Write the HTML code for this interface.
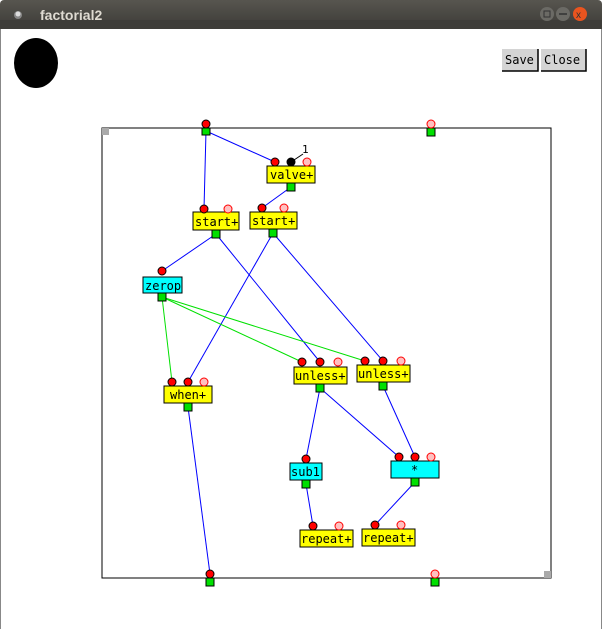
<!DOCTYPE html>
<html><head><style>
body{margin:0;width:602px;height:629px;overflow:hidden;background:#fff;font-family:"DejaVu Sans Mono","Liberation Mono",monospace;}
</style></head><body>
<svg width="602" height="629" xmlns="http://www.w3.org/2000/svg" font-family="DejaVu Sans Mono, Liberation Mono, monospace">
<defs><linearGradient id="tb" x1="0" y1="0" x2="0" y2="1"><stop offset="0" stop-color="#57554f"/><stop offset="1" stop-color="#3c3b37"/></linearGradient></defs>
<rect x="0" y="0" width="602" height="29" fill="url(#tb)" rx="4"/>
<rect x="0" y="20" width="602" height="9" fill="#3e3d39"/>
<circle cx="18" cy="15" r="4" fill="#888"/><circle cx="18" cy="14" r="2.5" fill="#ddd"/>
<text x="40" y="20" font-family="Liberation Sans, sans-serif" font-weight="bold" font-size="14" fill="#dfdbd2">factorial2</text>
<circle cx="547" cy="14" r="7" fill="#6b6a65"/><rect x="544" y="11" width="6" height="6" fill="none" stroke="#333"/>
<circle cx="563" cy="14" r="7" fill="#6b6a65"/><line x1="559" y1="14" x2="567" y2="14" stroke="#333" stroke-width="1.5"/>
<circle cx="580" cy="14" r="7" fill="#e9541f"/><text x="576" y="18" font-family="Liberation Sans" font-size="10" fill="#333">x</text>
<rect x="0" y="29" width="1" height="600" fill="#888"/><rect x="601" y="29" width="1" height="600" fill="#888"/>
<ellipse cx="36" cy="63" rx="22" ry="25" fill="#000"/>
<rect x="502" y="49" width="36" height="22" fill="#d4d4d4"/><path d="M502 71H538V49" stroke="#000" fill="none" stroke-width="1.5"/>
<text x="505" y="64" font-size="12">Save</text>
<rect x="541" y="49" width="45" height="22" fill="#d4d4d4"/><path d="M541 71H586V49" stroke="#000" fill="none" stroke-width="1.5"/>
<text x="544" y="64" font-size="12">Close</text>
<rect x="102" y="128" width="449" height="450" fill="none" stroke="#000"/>
<rect x="102" y="128" width="7" height="7" fill="#aaa"/><rect x="544" y="571" width="7" height="7" fill="#aaa"/>
<g stroke="#0000ff" stroke-width="1">
<line x1="206" y1="131" x2="275" y2="162"/><line x1="206" y1="131" x2="204" y2="209"/>
<line x1="291" y1="187" x2="262" y2="208"/><line x1="216" y1="234" x2="162" y2="271"/>
<line x1="216" y1="234" x2="320" y2="362"/><line x1="273" y1="233" x2="188" y2="382"/>
<line x1="273" y1="233" x2="383" y2="361"/><line x1="320" y1="388" x2="306" y2="459"/>
<line x1="320" y1="388" x2="399" y2="457"/><line x1="383" y1="386" x2="415" y2="457"/>
<line x1="188" y1="407" x2="210" y2="574"/><line x1="306" y1="484" x2="313" y2="526"/>
<line x1="415" y1="482" x2="375" y2="525"/>
</g>
<g stroke="#00e000" stroke-width="1">
<line x1="162" y1="297" x2="172" y2="382"/><line x1="162" y1="297" x2="302" y2="362"/><line x1="162" y1="297" x2="365" y2="361"/>
</g>
<line x1="291" y1="162" x2="303" y2="154" stroke="#000"/><text x="302" y="153" font-size="11">1</text>
<g stroke="#000" font-size="12">
<rect x="267" y="166" width="48" height="17" fill="#ffff00"/>
<rect x="193" y="212" width="46" height="18" fill="#ffff00"/>
<rect x="250" y="212" width="47" height="17" fill="#ffff00"/>
<rect x="143" y="277" width="39" height="16" fill="#00ffff"/>
<rect x="164" y="386" width="48" height="17" fill="#ffff00"/>
<rect x="294" y="367" width="53" height="17" fill="#ffff00"/>
<rect x="357" y="365" width="53" height="17" fill="#ffff00"/>
<rect x="290" y="463" width="32" height="17" fill="#00ffff"/>
<rect x="391" y="461" width="48" height="17" fill="#00ffff"/>
<rect x="300" y="530" width="53" height="17" fill="#ffff00"/>
<rect x="362" y="529" width="53" height="17" fill="#ffff00"/>
<g fill="#00e000">
<rect x="202" y="128" width="8" height="7"/><rect x="427" y="128" width="8" height="8"/>
<rect x="206" y="578" width="8" height="8"/><rect x="431" y="578" width="8" height="8"/>
<rect x="287" y="183" width="8" height="8"/><rect x="212" y="230" width="8" height="8"/>
<rect x="269" y="229" width="8" height="8"/><rect x="158" y="293" width="8" height="8"/>
<rect x="184" y="403" width="8" height="8"/><rect x="316" y="384" width="8" height="8"/>
<rect x="379" y="382" width="8" height="8"/><rect x="302" y="480" width="8" height="8"/>
<rect x="411" y="478" width="8" height="8"/>
</g>
<g fill="#ff0000">
<circle cx="206" cy="124" r="4"/><circle cx="210" cy="574" r="4"/>
<circle cx="275" cy="162" r="4"/><circle cx="204" cy="209" r="4"/><circle cx="262" cy="208" r="4"/>
<circle cx="162" cy="271" r="4"/><circle cx="172" cy="382" r="4"/><circle cx="188" cy="382" r="4"/>
<circle cx="302" cy="362" r="4"/><circle cx="320" cy="362" r="4"/><circle cx="365" cy="361" r="4"/><circle cx="383" cy="361" r="4"/>
<circle cx="306" cy="459" r="4"/><circle cx="399" cy="457" r="4"/><circle cx="415" cy="457" r="4"/>
<circle cx="313" cy="526" r="4"/><circle cx="375" cy="525" r="4"/>
</g>
<circle cx="291" cy="162" r="4" fill="#000"/>
</g>
<g fill="#ffc0c0" stroke="#ff0000">
<circle cx="431" cy="124" r="4"/><circle cx="435" cy="574" r="4"/><circle cx="307" cy="162" r="4"/>
<circle cx="228" cy="209" r="4"/><circle cx="284" cy="208" r="4"/><circle cx="204" cy="382" r="4"/>
<circle cx="338" cy="362" r="4"/><circle cx="401" cy="361" r="4"/><circle cx="431" cy="457" r="4"/>
<circle cx="339" cy="526" r="4"/><circle cx="401" cy="525" r="4"/>
</g>
<g font-size="12" fill="#000">
<text x="270" y="179">valve+</text>
<text x="195" y="226">start+</text>
<text x="252" y="225">start+</text>
<text x="145" y="290">zerop</text>
<text x="170" y="399">when+</text>
<text x="295" y="380">unless+</text>
<text x="358" y="378">unless+</text>
<text x="291" y="476">sub1</text>
<text x="411" y="474">*</text>
<text x="301" y="543">repeat+</text>
<text x="363" y="542">repeat+</text>
</g>
</svg>
</body></html>
